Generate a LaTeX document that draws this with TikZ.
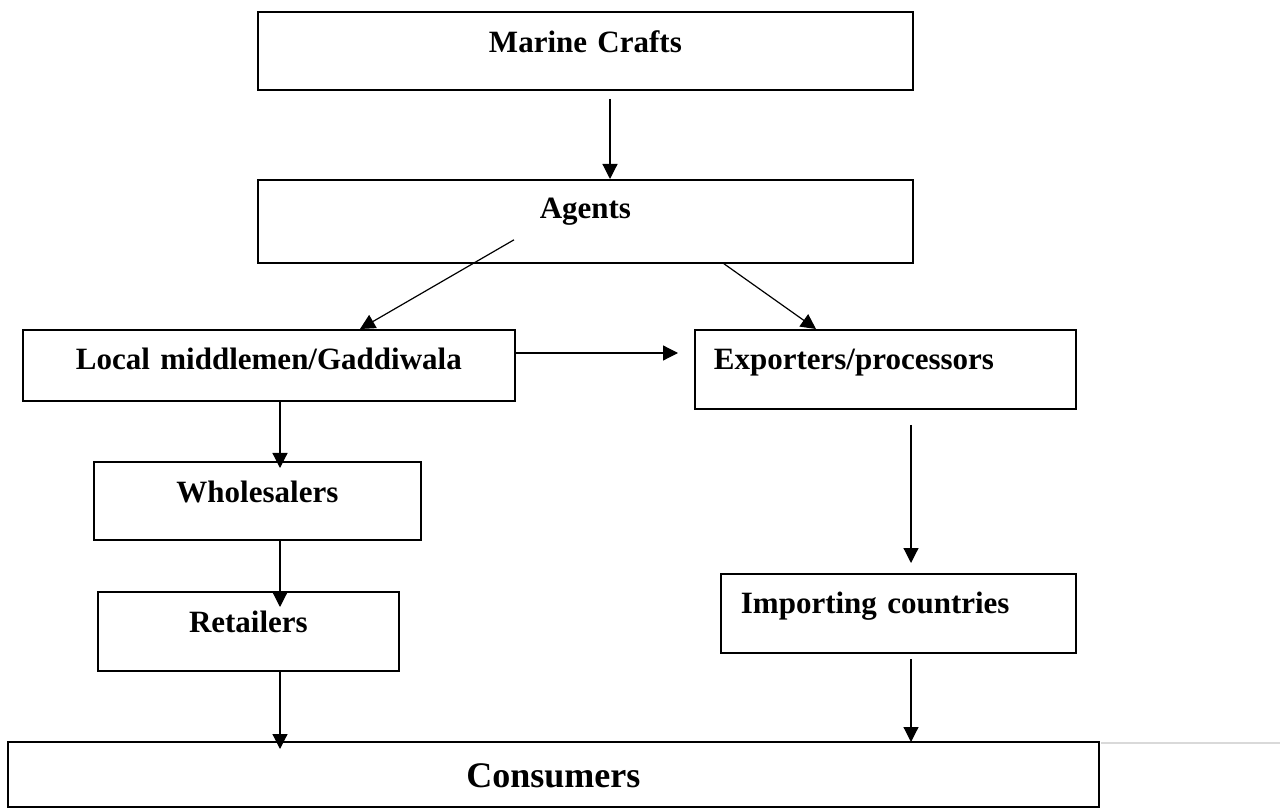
\documentclass[tikz,border=0pt]{standalone}
\usepackage{fontspec}
\setmainfont{Liberation Serif}
\usetikzlibrary{arrows.meta,calc}
\tikzset{
  box/.style={draw, line width=0.9pt, rectangle, inner sep=0pt, anchor=north west,
    font=\bfseries\fontsize{15.5}{18}\selectfont},
  arr/.style={line width=0.6pt, -{Triangle[length=7.5pt,width=7.5pt]}},
  pageline/.style={line width=1pt, draw=black!15},
}
\begin{document}
\begin{tikzpicture}[x=0.5pt,y=-0.5pt]
\useasboundingbox (0,0) rectangle (1280,812);
% boxes
\node[box, text width=327.5pt, align=center, text height=20.5pt, text depth=18.5pt] (M) at (257,11) {Marine Crafts};
\node[box, text width=327.5pt, align=center, text height=19.5pt, text depth=22pt] (A) at (257,179) {Agents};
\node[box, text width=246pt, align=center, text height=20pt, text depth=15.5pt] (L) at (22,329) {Local middlemen/Gaddiwala};
\node[box, inner xsep=9.5pt, text width=171.5pt, align=left, text height=20pt, text depth=19.5pt] (E) at (694,329) {Exporters/processors};
\node[box, text width=163.5pt, align=center, text height=20.5pt, text depth=18.5pt] (W) at (93,461) {Wholesalers};
\node[box, text width=150.5pt, align=center, text height=20.5pt, text depth=19pt] (R) at (97,591) {Retailers};
\node[box, inner xsep=10pt, text width=157.5pt, align=left, text height=20pt, text depth=19.5pt] (I) at (720,573) {Importing countries};
\node[box, text width=545.5pt, align=center, text height=23pt, text depth=9.5pt,
  font=\bfseries\fontsize{18}{21}\selectfont] (C) at (7,741) {Consumers};
% page edge line
\coordinate (edge) at (1280,742.5);
\draw[pageline] ($(C.north east)+(1,1.5)$) -- (edge);
% connectors
\draw[arr] ($(M.south west)+(353,8)$) -- ($(A.north west)+(353,0)$);
\draw[arr] ($(A.south west)+(257,-24)$) -- ($(L.north west)+(338,0)$);
\draw[arr] ($(A.south west)+(467,0)$) -- ($(E.north west)+(122,0)$);
\draw[arr] ($(L.north east)+(0,24)$) -- ($(E.north west)+(-16,24)$);
\draw[arr] ($(L.south west)+(258,0)$) -- ($(W.north west)+(187,7)$);
\draw[arr] ($(W.south west)+(187,0)$) -- ($(R.north west)+(183,16)$);
\draw[arr] ($(R.south west)+(183,0)$) -- ($(C.north west)+(273,8)$);
\draw[arr] ($(E.south west)+(217,15)$) -- ($(I.north west)+(191,-10)$);
\draw[arr] ($(I.south west)+(191,5)$) -- ($(C.north west)+(904,1)$);
\end{tikzpicture}
\end{document}
